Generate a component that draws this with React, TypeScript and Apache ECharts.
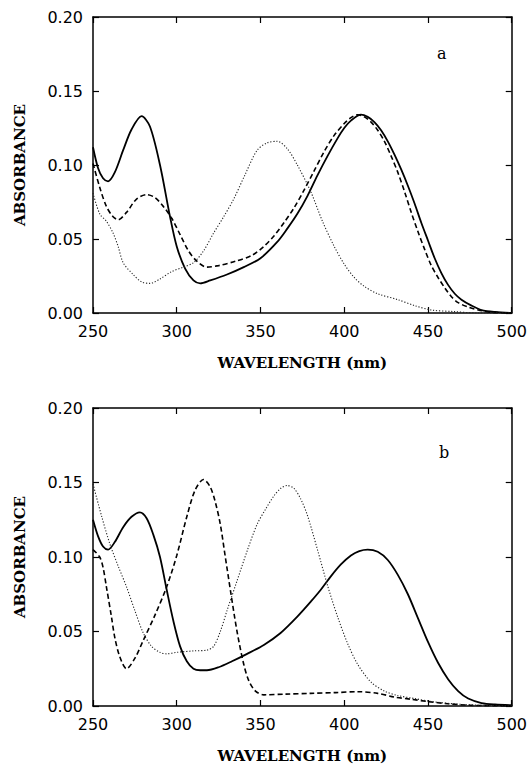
import React, { useEffect, useRef } from "react";
import * as echarts from "echarts";

// Panel a
const aSolidX = [250, 253, 256, 259, 263, 268, 273, 279, 284, 290, 296, 300, 305, 310, 314, 320, 330, 340, 350, 360, 366, 372, 378, 384, 390, 396, 400, 404, 410, 414, 418, 422, 426, 430, 434, 438, 442, 446, 450, 454, 458, 462, 466, 470, 476, 482, 490, 500];
const aSolidY = [0.112, 0.098, 0.091, 0.089, 0.095, 0.11, 0.124, 0.133, 0.126, 0.1, 0.065, 0.045, 0.03, 0.022, 0.02, 0.022, 0.026, 0.031, 0.037, 0.048, 0.057, 0.067, 0.079, 0.093, 0.106, 0.118, 0.125, 0.13, 0.134, 0.1325, 0.129, 0.1235, 0.116, 0.107, 0.097, 0.086, 0.074, 0.061, 0.049, 0.037, 0.027, 0.019, 0.013, 0.009, 0.005, 0.002, 0.0007, 0.0];

const aDashX = [250, 254, 258, 262, 265, 270, 276, 282, 287, 292, 297, 302, 307, 312, 318, 325, 335, 345, 352, 358, 364, 370, 376, 382, 388, 394, 400, 404, 408, 412, 416, 420, 424, 428, 432, 436, 440, 444, 448, 452, 456, 460, 464, 468, 474, 480, 488, 500];
const aDashY = [0.101, 0.085, 0.072, 0.065, 0.063, 0.068, 0.077, 0.08, 0.078, 0.072, 0.064, 0.053, 0.042, 0.035, 0.031, 0.032, 0.035, 0.039, 0.045, 0.052, 0.061, 0.071, 0.083, 0.096, 0.109, 0.12, 0.128, 0.132, 0.134, 0.1325, 0.129, 0.1235, 0.116, 0.106, 0.095, 0.082, 0.068, 0.055, 0.043, 0.032, 0.024, 0.017, 0.011, 0.007, 0.004, 0.002, 0.0005, 0.0];

const aDotX = [250, 254, 258, 262, 265, 268, 274, 279, 284, 290, 297, 304, 310, 316, 322, 328, 334, 341, 348, 354, 360, 366, 372, 380, 387, 394, 400, 406, 412, 420, 432, 442, 452, 465, 480, 500];
const aDotY = [0.081, 0.067, 0.062, 0.054, 0.045, 0.034, 0.026, 0.021, 0.02, 0.023, 0.028, 0.031, 0.034, 0.042, 0.054, 0.065, 0.077, 0.094, 0.11, 0.115, 0.116, 0.111, 0.1, 0.082, 0.062, 0.045, 0.033, 0.024, 0.018, 0.013, 0.009, 0.005, 0.002, 0.001, 0.0, 0.0];

// Panel b
const bSolidX = [250, 253, 256, 259, 263, 268, 273, 278, 282, 286, 290, 294, 298, 302, 306, 310, 314, 318, 325, 333, 342, 352, 362, 372, 380, 386, 392, 398, 404, 409, 414, 420, 426, 432, 438, 444, 450, 456, 462, 468, 474, 482, 490, 500];
const bSolidY = [0.125, 0.114, 0.107, 0.105, 0.11, 0.12, 0.127, 0.13, 0.126, 0.115, 0.1, 0.078, 0.057, 0.04, 0.03, 0.025, 0.024, 0.024, 0.026, 0.03, 0.035, 0.041, 0.049, 0.06, 0.07, 0.078, 0.087, 0.095, 0.101, 0.104, 0.105, 0.1035, 0.098, 0.088, 0.075, 0.059, 0.043, 0.029, 0.018, 0.01, 0.005, 0.002, 0.001, 0.0005];

const bDashX = [250, 254, 256, 258, 261, 263, 266, 270, 275, 280, 287, 294, 300, 306, 311, 316, 320, 323, 326, 329, 332, 336, 340, 343, 347, 352, 365, 380, 395, 408, 420, 430, 440, 450, 462, 475, 500];
const bDashY = [0.105, 0.1, 0.093, 0.08, 0.06, 0.046, 0.033, 0.025, 0.032, 0.044, 0.061, 0.08, 0.101, 0.127, 0.145, 0.152, 0.147, 0.137, 0.122, 0.1, 0.078, 0.05, 0.028, 0.017, 0.01, 0.0075, 0.008, 0.0085, 0.009, 0.0096, 0.0085, 0.006, 0.0045, 0.003, 0.0015, 0.0005, 0.0];

const bDotX = [250, 255, 260, 265, 270, 275, 280, 285, 290, 294, 300, 310, 318, 322, 326, 330, 336, 342, 348, 353, 358, 362, 366, 370, 374, 378, 384, 390, 396, 402, 408, 416, 424, 432, 442, 452, 465, 480, 500];
const bDotY = [0.149, 0.128, 0.109, 0.094, 0.08, 0.064, 0.049, 0.04, 0.036, 0.035, 0.036, 0.037, 0.0375, 0.04, 0.05, 0.064, 0.084, 0.104, 0.122, 0.132, 0.141, 0.146, 0.148, 0.146, 0.139, 0.128, 0.105, 0.081, 0.06, 0.042, 0.028, 0.016, 0.01, 0.007, 0.005, 0.003, 0.0015, 0.0005, 0.0];

const xTicks = { min: 250, max: 500, interval: 50 };
const yTicks = { min: 0, max: 0.2, interval: 0.05 };
const panelLabels = ["a", "b"];

const pair = (xs: number[], ys: number[]) => xs.map((x, i) => [x, ys[i]]);

const tickFont = "DejaVu Sans";
const titleFont = "DejaVu Serif";

const axisLine = { show: true, onZero: false, lineStyle: { color: "#000", width: 1.5 } };
const axisTick = { show: true, inside: true, length: 6, lineStyle: { color: "#000", width: 1.2 } };
const titleStyle = { fontFamily: titleFont, fontWeight: "bold", fontSize: 15, color: "#000" };

function xAxes(grid: number) {
  return [
    {
      type: "value",
      gridIndex: grid,
      ...xTicks,
      position: "bottom",
      axisLine,
      axisTick,
      axisLabel: { color: "#000", fontFamily: tickFont, fontSize: 16, margin: 10 },
      splitLine: { show: false },
      name: "WAVELENGTH (nm)",
      nameLocation: "middle",
      nameGap: 42,
      nameTextStyle: titleStyle,
    },
    {
      type: "value",
      gridIndex: grid,
      ...xTicks,
      position: "top",
      axisLine,
      axisTick,
      axisLabel: { show: false },
      splitLine: { show: false },
    },
  ];
}

function yAxes(grid: number) {
  return [
    {
      type: "value",
      gridIndex: grid,
      ...yTicks,
      position: "left",
      axisLine,
      axisTick,
      axisLabel: {
        color: "#000",
        fontFamily: tickFont,
        fontSize: 16,
        margin: 10,
        formatter: (v: number) => v.toFixed(2),
      },
      splitLine: { show: false },
      name: "ABSORBANCE",
      nameLocation: "middle",
      nameGap: 66,
      nameTextStyle: titleStyle,
    },
    {
      type: "value",
      gridIndex: grid,
      ...yTicks,
      position: "right",
      axisLine,
      axisTick,
      axisLabel: { show: false },
      splitLine: { show: false },
    },
  ];
}

function line(data: number[][], grid: number, kind: "solid" | "dash" | "dot") {
  const style =
    kind === "solid"
      ? { color: "#000", width: 1.8, type: "solid" as any }
      : kind === "dash"
      ? { color: "#000", width: 1.6, type: [5, 3] as any }
      : { color: "#222", width: 1.1, type: [1.2, 1.8] as any };
  return {
    type: "line",
    xAxisIndex: grid * 2,
    yAxisIndex: grid * 2,
    data,
    smooth: 0.3,
    showSymbol: false,
    symbol: "none",
    lineStyle: style,
    silent: true,
  };
}

export default function App() {
  const ref = useRef<HTMLDivElement>(null);
  useEffect(() => {
    if (!ref.current) return;
    const chart = echarts.init(ref.current, undefined, { renderer: "svg" });
    chart.setOption({
      animation: false,
      backgroundColor: "#fff",
      grid: [
        { left: 93, top: 17, width: 419, height: 296 },
        { left: 93, top: 408, width: 419, height: 298 },
      ],
      xAxis: [...xAxes(0), ...xAxes(1)],
      yAxis: [...yAxes(0), ...yAxes(1)],
      series: [
        line(pair(aSolidX, aSolidY), 0, "solid"),
        line(pair(aDashX, aDashY), 0, "dash"),
        line(pair(aDotX, aDotY), 0, "dot"),
        line(pair(bSolidX, bSolidY), 1, "solid"),
        line(pair(bDashX, bDashY), 1, "dash"),
        line(pair(bDotX, bDotY), 1, "dot"),
      ],
      graphic: [
        {
          type: "text",
          left: 437,
          top: 45,
          style: { text: panelLabels[0], font: "16px 'DejaVu Serif'", fill: "#000" },
        },
        {
          type: "text",
          left: 439,
          top: 444,
          style: { text: panelLabels[1], font: "16px 'DejaVu Serif'", fill: "#000" },
        },
      ],
    });
    return () => chart.dispose();
  }, []);
  return (
    <div
      ref={ref}
      style={{ position: "fixed", left: 0, top: 0, width: 530, height: 766, background: "#fff" }}
    />
  );
}
